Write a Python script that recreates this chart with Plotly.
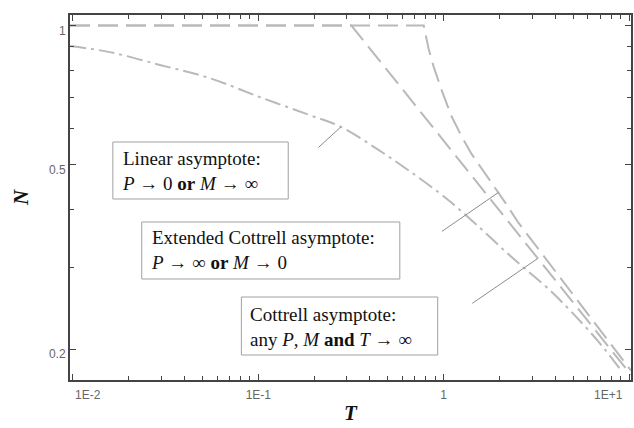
import math
import plotly.graph_objects as go

# Dimensionless time T and normalised current N for the three limiting cases
T_cottrell = [0.00964, 0.318, 10.25]
N_cottrell = [1.0, 1.0, 0.176]

T_extended = [0.00964, 0.781, 0.795, 0.83, 0.883, 0.975, 1.104, 1.25, 1.414,
              1.682, 1.976, 2.153, 2.53, 3.53, 5.13, 7.71, 10.25]
N_extended = [1.0, 1.0, 0.965, 0.89, 0.815, 0.725, 0.636, 0.576, 0.528,
              0.478, 0.436, 0.414, 0.375, 0.315, 0.258, 0.209, 0.1797]

T_linear = [0.00964, 0.0158, 0.0294, 0.0545, 0.1013, 0.188, 0.279, 0.447,
            0.673, 0.94, 1.104, 1.542, 2.153, 2.76, 3.67, 4.88, 6.81, 9.06]
N_linear = [0.903, 0.876, 0.822, 0.770, 0.701, 0.641, 0.604, 0.538,
            0.481, 0.436, 0.414, 0.368, 0.325, 0.298, 0.270, 0.241, 0.208, 0.180]

x_major = [0.01, 0.1, 1, 10]
x_major_text = ["1E-2", "1E-1", "1", "1E+1"]
x_minor = [m * d for d in (0.01, 0.1, 1) for m in range(2, 10)]
y_major = [0.2, 0.5, 1]
y_major_text = ["0.2", "0.5", "1"]
y_minor = [0.3, 0.4, 0.6, 0.7, 0.8, 0.9]

# Callout texts and the point on each curve that they refer to
labels = [
    "Linear asymptote:<br><i>P</i> \u2192 0 <b>or</b> <i>M</i> \u2192 \u221e",
    "Extended Cottrell asymptote:<br><i>P</i> \u2192 \u221e <b>or</b> <i>M</i> \u2192 0",
    "Cottrell asymptote:<br>any <i>P</i>, <i>M</i> <b>and</b> <i>T</i> \u2192 \u221e",
]
label_targets = [(T_linear[6], N_linear[6]), (T_extended[10], N_extended[10]), (3.22, 0.314)]

W, H = 634, 428
L, R, TOP, B = 70, 1, 15, 48
PW, PH = W - L - R, H - TOP - B
SERIF = "Liberation Serif, Times New Roman, DejaVu Serif, serif"
SANS = "Liberation Sans, Arial, sans-serif"


def fx(p):
    return (p - L) / PW


def fy(p):
    return (H - B - p) / PH


CURVE = "#b9b9b9"
fig = go.Figure()
fig.add_trace(go.Scatter(x=T_cottrell, y=N_cottrell, mode="lines",
                         line=dict(color=CURVE, width=2, dash="20px,8px")))
fig.add_trace(go.Scatter(x=T_extended, y=N_extended, mode="lines",
                         line=dict(color=CURVE, width=2, dash="20px,8px")))
fig.add_trace(go.Scatter(x=T_linear, y=N_linear, mode="lines", line_shape="spline",
                         line=dict(color=CURVE, width=2, dash="16px,5px,3px,5px")))

shapes = []
annotations = []

# boxed labels: (left, top, right, bottom) in pixels, text left edge, text centre
boxes = [
    ((113, 142, 289, 199), 120, 171),
    ((142, 222, 401, 279), 149, 250),
    ((242, 297, 439, 355), 249, 327),
]
for (x0, y0, x1, y1), tx, ty in boxes:
    shapes.append(dict(type="rect", xref="paper", yref="paper",
                       x0=fx(x0), x1=fx(x1), y0=fy(y1), y1=fy(y0),
                       line=dict(color="#a0a0a0", width=1), fillcolor="white", layer="above"))
for ((_, tx, ty), text) in zip(boxes, labels):
    annotations.append(dict(xref="paper", yref="paper", x=fx(tx), y=fy(ty),
                            xanchor="left", yanchor="middle", align="left",
                            text=text, showarrow=False,
                            font=dict(family=SERIF, size=19, color="#111")))

# leader lines from each box to its curve
offsets = [(-24, 22), (-58, 40), (-67, 46)]
for (t, n), (ax, ay) in zip(label_targets, offsets):
    annotations.append(dict(x=math.log10(t), y=math.log10(n), xref="x", yref="y",
                            text="", showarrow=True, arrowhead=0, arrowwidth=1,
                            arrowcolor="#8c8c8c", ax=ax, ay=ay, standoff=0))

# end tick labels of the T axis sit inside the frame
for val, txt, shift in [(x_major[0], x_major_text[0], 15), (x_major[-1], x_major_text[-1], -21)]:
    annotations.append(dict(x=math.log10(val), y=0, xref="x", yref="paper",
                            yanchor="middle", xshift=shift, yshift=-15,
                            text=txt, showarrow=False,
                            font=dict(family=SANS, size=12, color="#666")))

axis_common = dict(type="log", showgrid=False, zeroline=False, showline=True,
                   linecolor="#444", linewidth=2, mirror="ticks", ticks="inside",
                   ticklen=6, tickcolor="#444", tickwidth=1,
                   tickfont=dict(family=SANS, size=12, color="#666"))

fig.update_layout(
    width=W, height=H, margin=dict(l=L, r=R, t=TOP, b=B),
    paper_bgcolor="white", plot_bgcolor="white", showlegend=False,
    shapes=shapes, annotations=annotations,
    xaxis=dict(axis_common, range=[-2.0161, 1.0108],
               tickmode="array", tickvals=x_major,
               ticktext=[""] + x_major_text[1:-1] + [""],
               ticklabelstandoff=3,
               minor=dict(tickmode="array", tickvals=x_minor, ticks="inside",
                          ticklen=4, tickcolor="#444"),
               title=dict(text="<b><i>T</i></b>", standoff=4,
                          font=dict(family=SERIF, size=21, color="#111"))),
    yaxis=dict(axis_common, range=[-0.7657, 0.0227],
               tickmode="array", tickvals=y_major, ticktext=y_major_text,
               ticklabelshift=5,
               minor=dict(tickmode="array", tickvals=y_minor, ticks="inside",
                          ticklen=4, tickcolor="#444"),
               title=dict(text="<b><i>N</i></b>", standoff=15,
                          font=dict(family=SERIF, size=21, color="#111"))),
)

fig.write_html("out.html")
